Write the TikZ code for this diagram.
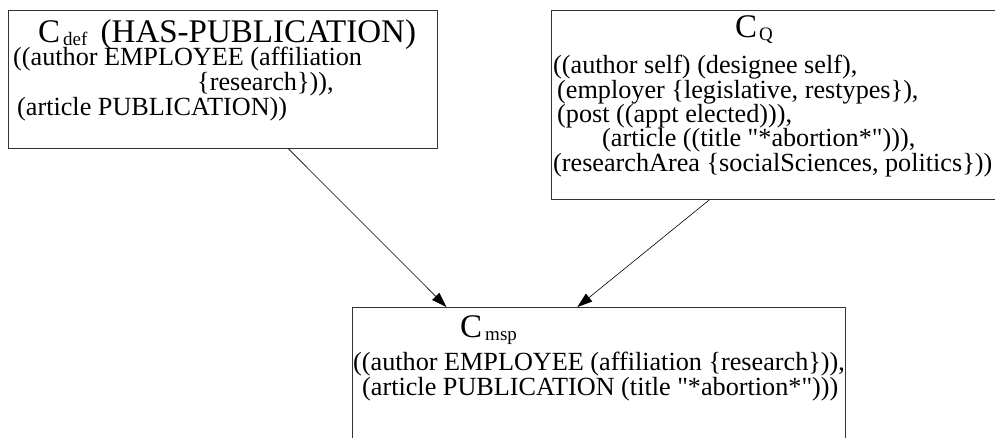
\documentclass[tikz,border=0pt]{standalone}
\usepackage{fontspec}
\setmainfont{Liberation Serif}
\usetikzlibrary{arrows.meta}
\newcommand{\csub}[1]{\raisebox{-3pt}{\fontsize{19}{19}\selectfont #1}}

\tikzset{
  box/.style={draw=black!80, line width=0.8pt, inner sep=0pt, anchor=north west},
  title/.style={font=\fontsize{33}{33}\selectfont, inner sep=0pt, anchor=base west},
  body/.style={font=\fontsize{26.2}{25}\selectfont, inner sep=0pt, anchor=base west, align=left},
  arr/.style={-{Triangle[length=15pt,width=10pt]}, line width=0.6pt},
}

\begin{document}
\begin{tikzpicture}[x=1pt, y=-1pt]
  \useasboundingbox (0,0) rectangle (995,437);
  \clip (0,0) rectangle (995,437);
  % the three concept boxes
  \node[box, minimum width=429pt, minimum height=138pt] (cdef) at (8,10) {};
  \node[box, minimum width=451pt, minimum height=189pt] (cq) at (551,10) {};
  \node[box, minimum width=493pt, minimum height=150pt] (cmsp) at (352,307) {};
  % titles
  \node[title] (cdef title) at ([shift={(30pt,-32pt)}]cdef.north west)
    {C\hspace{3pt}\csub{def}\hspace{5pt} (HAS-PUBLICATION)};
  \node[title] (cq title) at ([shift={(184pt,-27pt)}]cq.north west)
    {C\hspace{2pt}\csub{Q}};
  \node[title] (cmsp title) at ([shift={(108pt,-30pt)}]cmsp.north west)
    {C\hspace{3pt}\csub{msp}};
  % contents (base = last line)
  \node[body] (cdef body) at ([shift={(5pt,-105pt)}]cdef.north west)
    {((author EMPLOYEE (affiliation\\
     \hspace*{184pt}\{research\})),\\
     \hspace*{4pt}(article PUBLICATION))};
  \node[body, font=\fontsize{26.2}{24.3}\selectfont] (cq body) at ([shift={(2pt,-161pt)}]cq.north west)
    {((author self) (designee self),\\
     \hspace*{4pt}(employer \{legislative, restypes\}),\\
     \hspace*{4pt}(post ((appt elected))),\\
     \hspace*{49pt}(article ((title \textquotedbl*abortion*\textquotedbl))),\\
     (researchArea \{socialSciences, politics\}))};
  \node[body] (cmsp body) at ([shift={(1pt,-88pt)}]cmsp.north west)
    {((author EMPLOYEE (affiliation \{research\})),\\
     \hspace*{9pt}(article PUBLICATION (title \textquotedbl*abortion*\textquotedbl)))};
  % links
  \draw[arr] ([xshift=65.5pt]cdef.south) -- ([xshift=-152.5pt]cmsp.north);
  \draw[arr] ([xshift=-67.5pt]cq.south) -- ([xshift=-21.5pt]cmsp.north);
\end{tikzpicture}
\end{document}
